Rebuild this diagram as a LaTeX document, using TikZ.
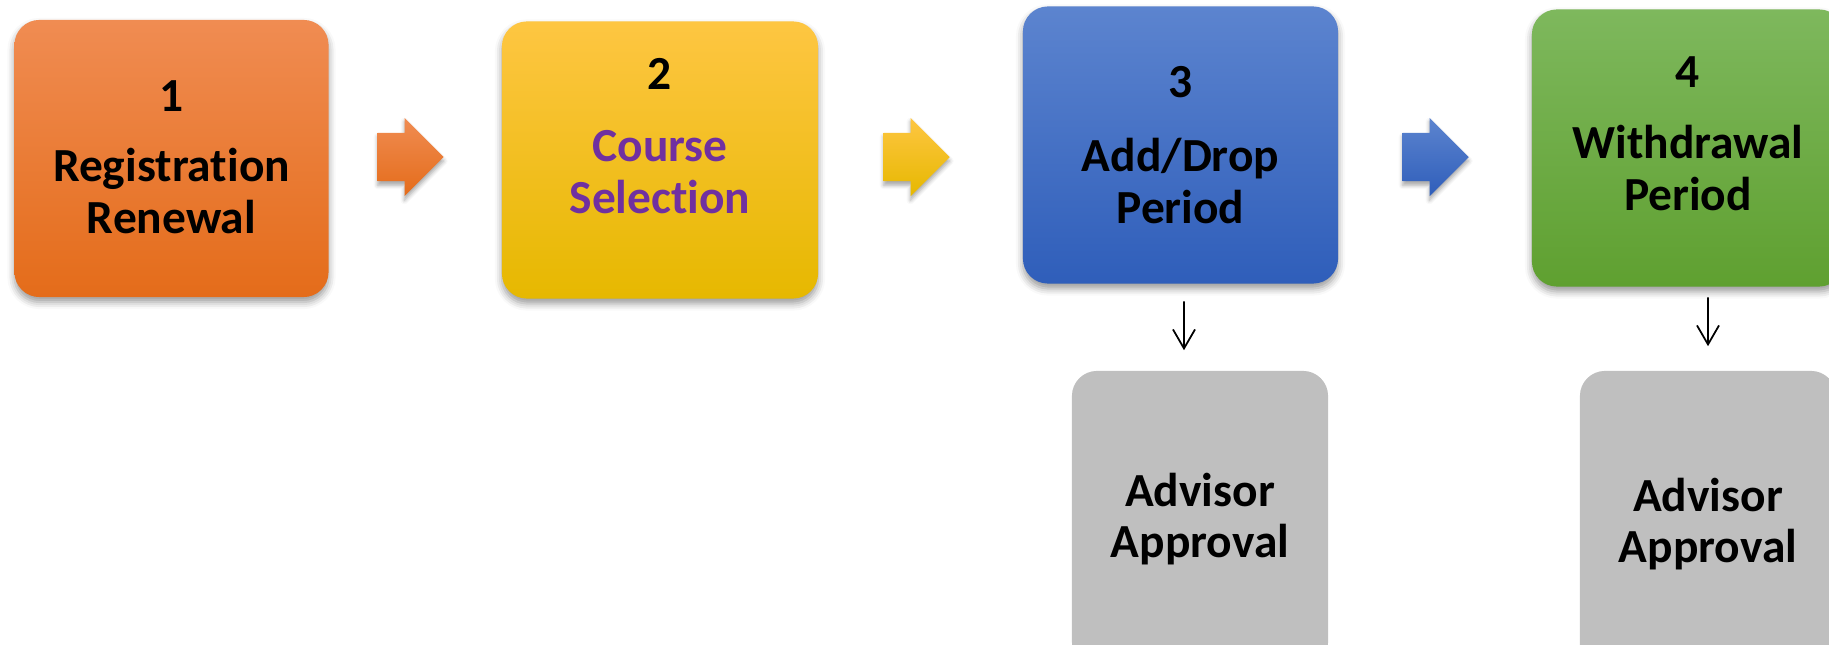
\documentclass[tikz,border=0pt]{standalone}
\usepackage{fontspec}
\setmainfont[Ligatures=NoCommon]{Carlito}
\usetikzlibrary{arrows.meta,positioning,calc,shapes.arrows,shadows.blur}
\usepackage{xcolor}
\definecolor{orangetop}{RGB}{240,140,82}
\definecolor{orangebot}{RGB}{228,108,26}
\definecolor{yellowtop}{RGB}{254,198,66}
\definecolor{yellowmid}{RGB}{255,192,0}
\definecolor{yellowbot}{RGB}{230,184,0}
\definecolor{bluetop}{RGB}{92,132,207}
\definecolor{bluebot}{RGB}{47,94,186}
\definecolor{greentop}{RGB}{126,184,93}
\definecolor{greenbot}{RGB}{95,160,48}
\definecolor{approvalgray}{RGB}{191,191,191}
\definecolor{coursepurple}{RGB}{112,48,160}

\begin{document}
\begin{tikzpicture}[
    x=0.01cm, y=-0.01cm,
    stage/.style={rounded corners=0.25cm, minimum width=3.14cm, minimum height=2.77cm,
        blur shadow={shadow xshift=0cm, shadow yshift=-0.05cm, shadow blur radius=0.07cm, shadow opacity=40}},
    caption/.style={font=\bfseries\fontsize{13.5}{14.6}\selectfont, align=center, inner sep=0pt},
    flow/.style={single arrow, minimum height=0.66cm, minimum width=0.77cm, single arrow head extend=0.15cm,
        inner sep=0pt, text height=0.47cm, text depth=0pt, anchor=tail,
        blur shadow={shadow xshift=0cm, shadow yshift=-0.04cm, shadow blur radius=0.04cm, shadow opacity=35}},
    approval/.style={rounded corners=0.25cm, fill=approvalgray, minimum width=2.56cm},
    down/.style={-{Straight Barb[length=0.19cm, width=0.22cm]}, line width=0.5pt},
]
\useasboundingbox (0,0) rectangle (1829,645);

% the four steps
\node[stage, top color=orangetop, bottom color=orangebot] (s1) at (171.5,158.5) {};
\node[stage, top color=yellowtop, middle color=yellowmid, bottom color=yellowbot, minimum width=3.16cm] (s2) at (660,160) {};
\node[stage, top color=bluetop, bottom color=bluebot, minimum width=3.15cm] (s3) at (1180.5,145) {};
\node[stage, top color=greentop, bottom color=greenbot, minimum width=3.12cm] (s4) at (1688,148) {};

\node[caption] (t1) at (171.5,157) {1\\[0.19cm]Registration\\Renewal};
\node[caption] (t2) at (660,136) {2\\[0.21cm]\color{coursepurple}Course\\\color{coursepurple}Selection};
\node[caption] (t3) at (1180.5,145) {3\\[0.23cm]Add/Drop\\Period};
\node[caption] (t4) at (1688,133.5) {4\\[0.2cm]Withdrawal\\Period};

% block arrows
\node[flow, top color=orangetop, bottom color=orangebot] (f12) at (377,157) {};
\node[flow, top color=yellowtop, bottom color=yellowbot] (f23) at (883,157) {};
\node[flow, top color=bluetop, bottom color=bluebot] (f34) at (1402,157) {};

% approvals
\node[approval, minimum height=2.96cm] (r3) at (1200,519) {};
\node[approval, minimum height=3.06cm] (r4) at (1708,524) {};
\node[caption] (q3) at (r3) {Advisor\\Approval};
\node[caption] (q4) at (r4) {Advisor\\Approval};

\draw[down] ([xshift=0.035cm, yshift=-0.17cm]s3.south) -- ([xshift=-0.16cm, yshift=0.2cm]r3.north);
\draw[down] ([xshift=0.2cm, yshift=-0.1cm]s4.south) -- ([yshift=0.24cm]r4.north);

\end{tikzpicture}
\end{document}
